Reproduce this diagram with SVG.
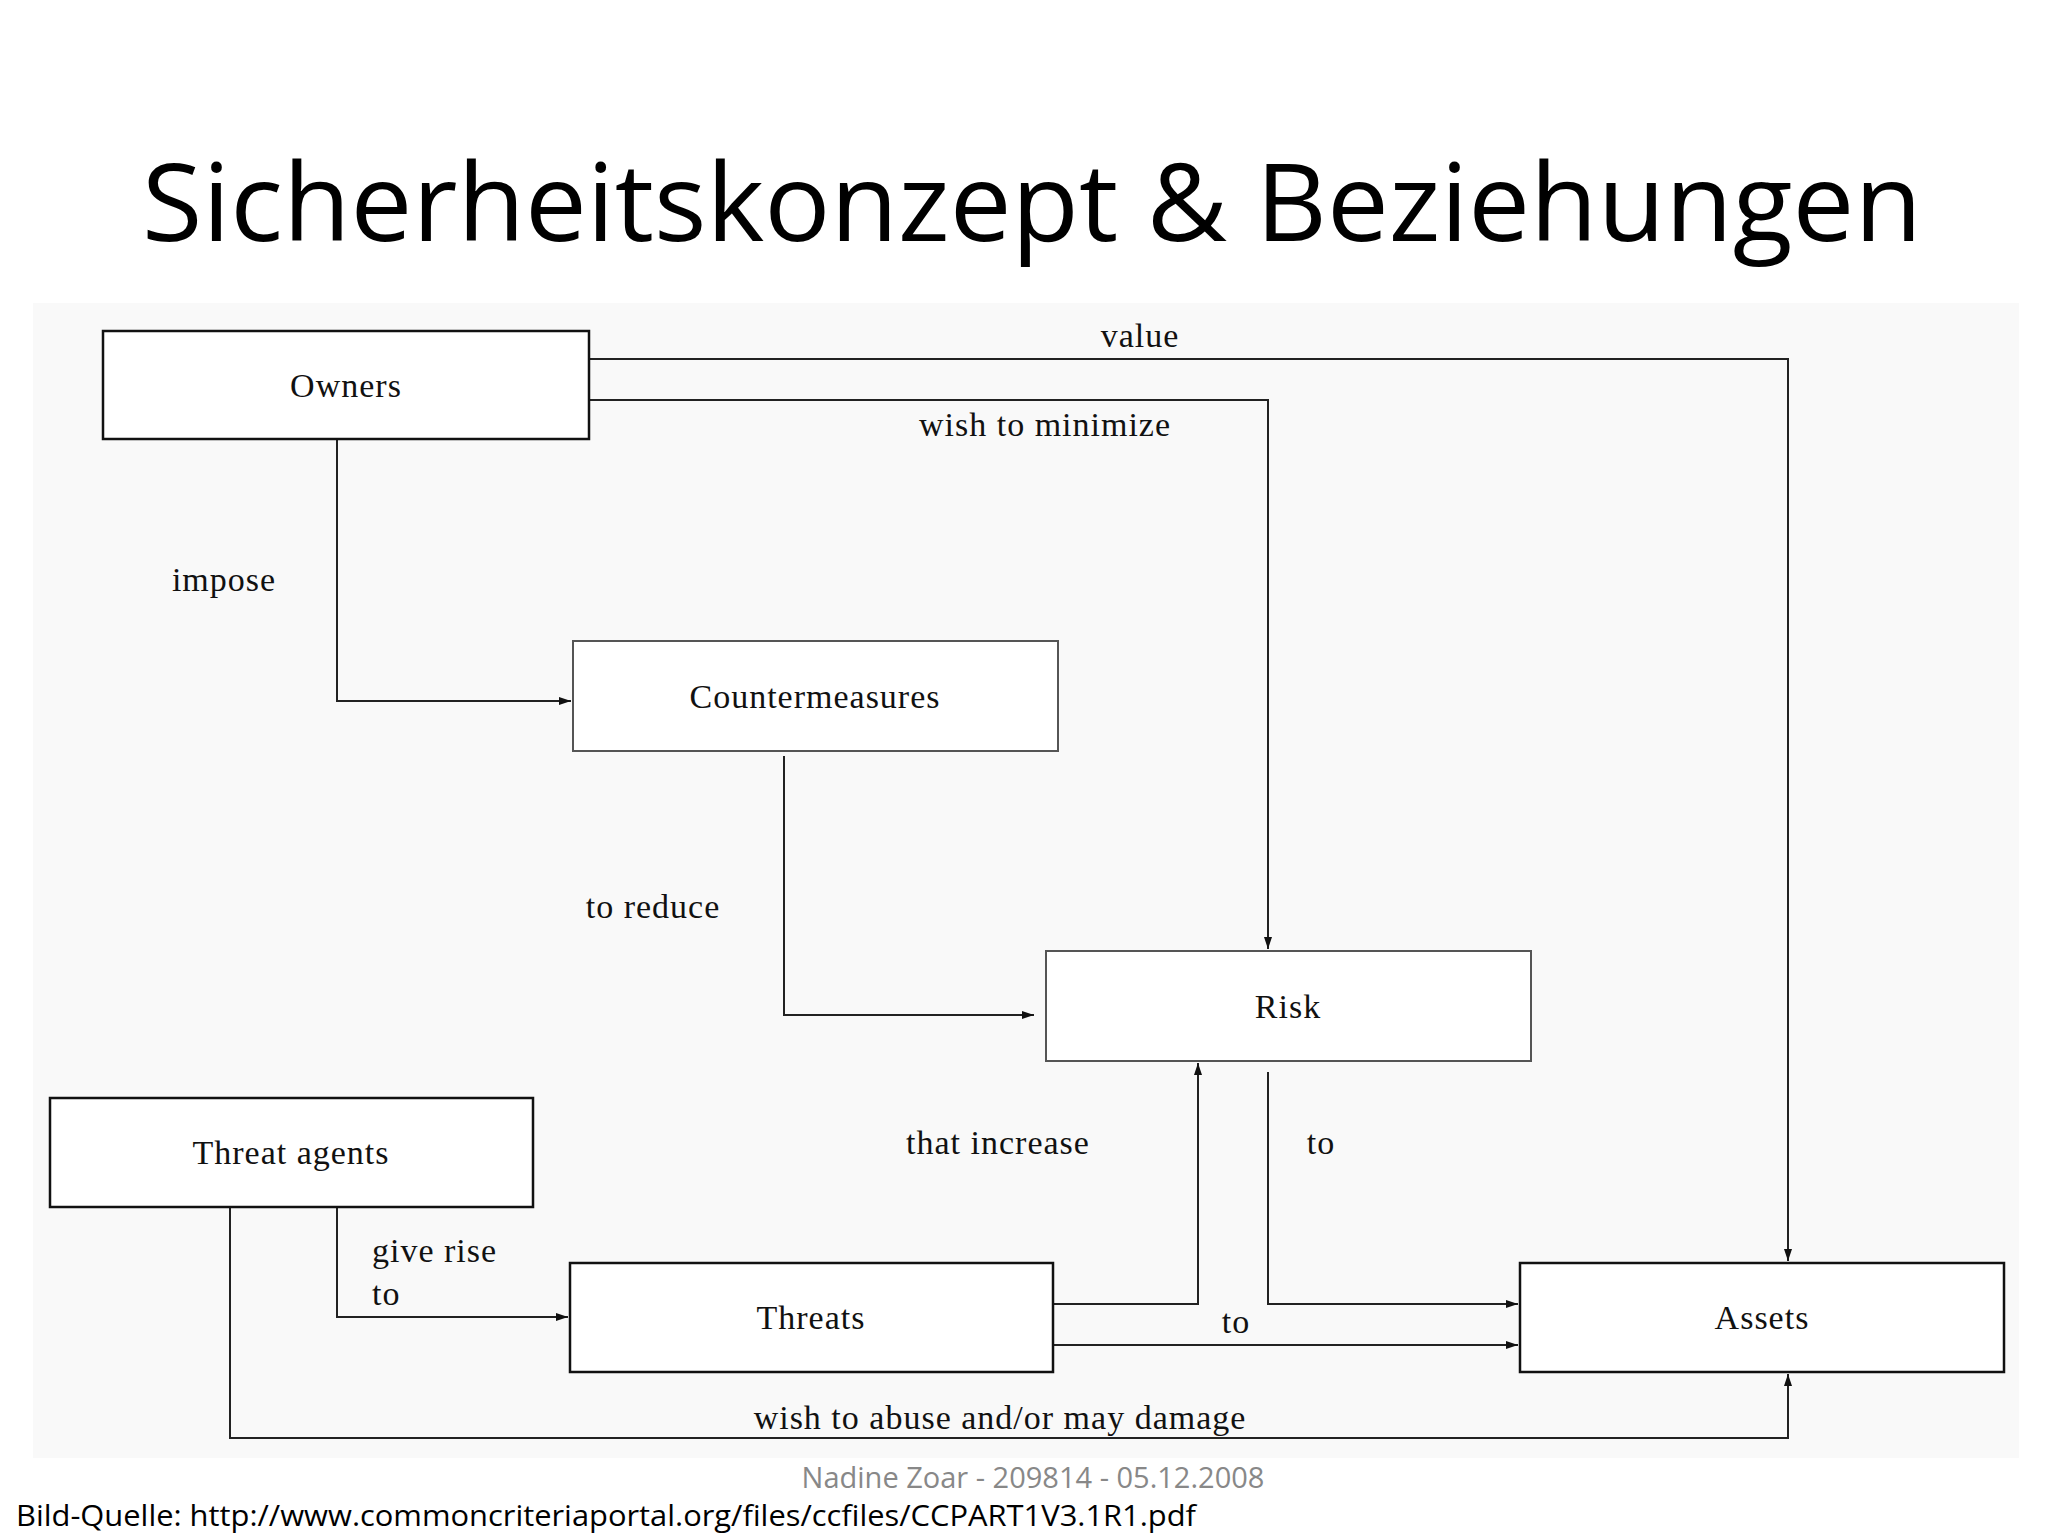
<svg xmlns="http://www.w3.org/2000/svg" width="2048" height="1536" viewBox="0 0 2048 1536">
<style>
.box{fill:#fff;stroke:#111;stroke-width:2.5}
.box2{fill:#fff;stroke:#555;stroke-width:2}
.n{font-family:"Liberation Serif",serif;font-size:34px;fill:#111;text-anchor:middle;letter-spacing:1px}
.l{font-family:"Liberation Serif",serif;font-size:34px;fill:#111;letter-spacing:1px}
.c{fill:none;stroke:#222;stroke-width:2}
</style>
<defs><marker id="a" markerWidth="12" markerHeight="10" refX="12" refY="5" orient="auto" markerUnits="userSpaceOnUse"><path d="M0,1 L12,5 L0,9 Z" fill="#111"/></marker></defs>
<rect width="2048" height="1536" fill="#fff"/>
<rect x="33" y="303" width="1986" height="1155" fill="#f9f9f9"/>
<text x="1032" y="241" font-family="Open Sans,Noto Sans,sans-serif" font-size="108" text-anchor="middle" textLength="1780" lengthAdjust="spacingAndGlyphs" fill="#000">Sicherheitskonzept &amp; Beziehungen</text>
<g id="connectors">
<path class="c" d="M589,359 H1788 V1261" marker-end="url(#a)"/>
<path class="c" d="M589,400 H1268 V949" marker-end="url(#a)"/>
<path class="c" d="M337,439 V701 H571" marker-end="url(#a)"/>
<path class="c" d="M784,756 V1015 H1034" marker-end="url(#a)"/>
<path class="c" d="M1053,1304 H1198 V1063" marker-end="url(#a)"/>
<path class="c" d="M1268,1072 V1304 H1518" marker-end="url(#a)"/>
<path class="c" d="M1053,1345 H1518" marker-end="url(#a)"/>
<path class="c" d="M337,1207 V1317 H568" marker-end="url(#a)"/>
<path class="c" d="M230,1207 V1438 H1788 V1374" marker-end="url(#a)"/>
<text class="l" x="1140" y="347" text-anchor="middle">value</text>
<text class="l" x="1045" y="436" text-anchor="middle">wish to minimize</text>
<text class="l" x="224" y="591" text-anchor="middle">impose</text>
<text class="l" x="653" y="918" text-anchor="middle">to reduce</text>
<text class="l" x="998" y="1154" text-anchor="middle">that increase</text>
<text class="l" x="1321" y="1154" text-anchor="middle">to</text>
<text class="l" x="1236" y="1333" text-anchor="middle">to</text>
<text class="l" x="372" y="1262">give rise</text>
<text class="l" x="372" y="1305">to</text>
<text class="l" x="1000" y="1429" text-anchor="middle">wish to abuse and/or may damage</text>
</g>
<g id="owners"><rect class="box" x="103" y="331" width="486" height="108"/><text class="n" x="346" y="397">Owners</text></g>
<g id="countermeasures"><rect class="box2" x="573" y="641" width="485" height="110"/><text class="n" x="815" y="708">Countermeasures</text></g>
<g id="risk"><rect class="box2" x="1046" y="951" width="485" height="110"/><text class="n" x="1288" y="1018">Risk</text></g>
<g id="threat-agents"><rect class="box" x="50" y="1098" width="483" height="109"/><text class="n" x="291" y="1164">Threat agents</text></g>
<g id="threats"><rect class="box" x="570" y="1263" width="483" height="109"/><text class="n" x="811" y="1329">Threats</text></g>
<g id="assets"><rect class="box" x="1520" y="1263" width="484" height="109"/><text class="n" x="1762" y="1329">Assets</text></g>
<text x="1033" y="1488" font-family="Open Sans,sans-serif" font-size="29" fill="#888" text-anchor="middle">Nadine Zoar - 209814 - 05.12.2008</text>
<text x="16" y="1526" font-family="Open Sans,sans-serif" font-size="29" fill="#000" textLength="1180" lengthAdjust="spacingAndGlyphs">Bild-Quelle: http://www.commoncriteriaportal.org/files/ccfiles/CCPART1V3.1R1.pdf</text>
</svg>
